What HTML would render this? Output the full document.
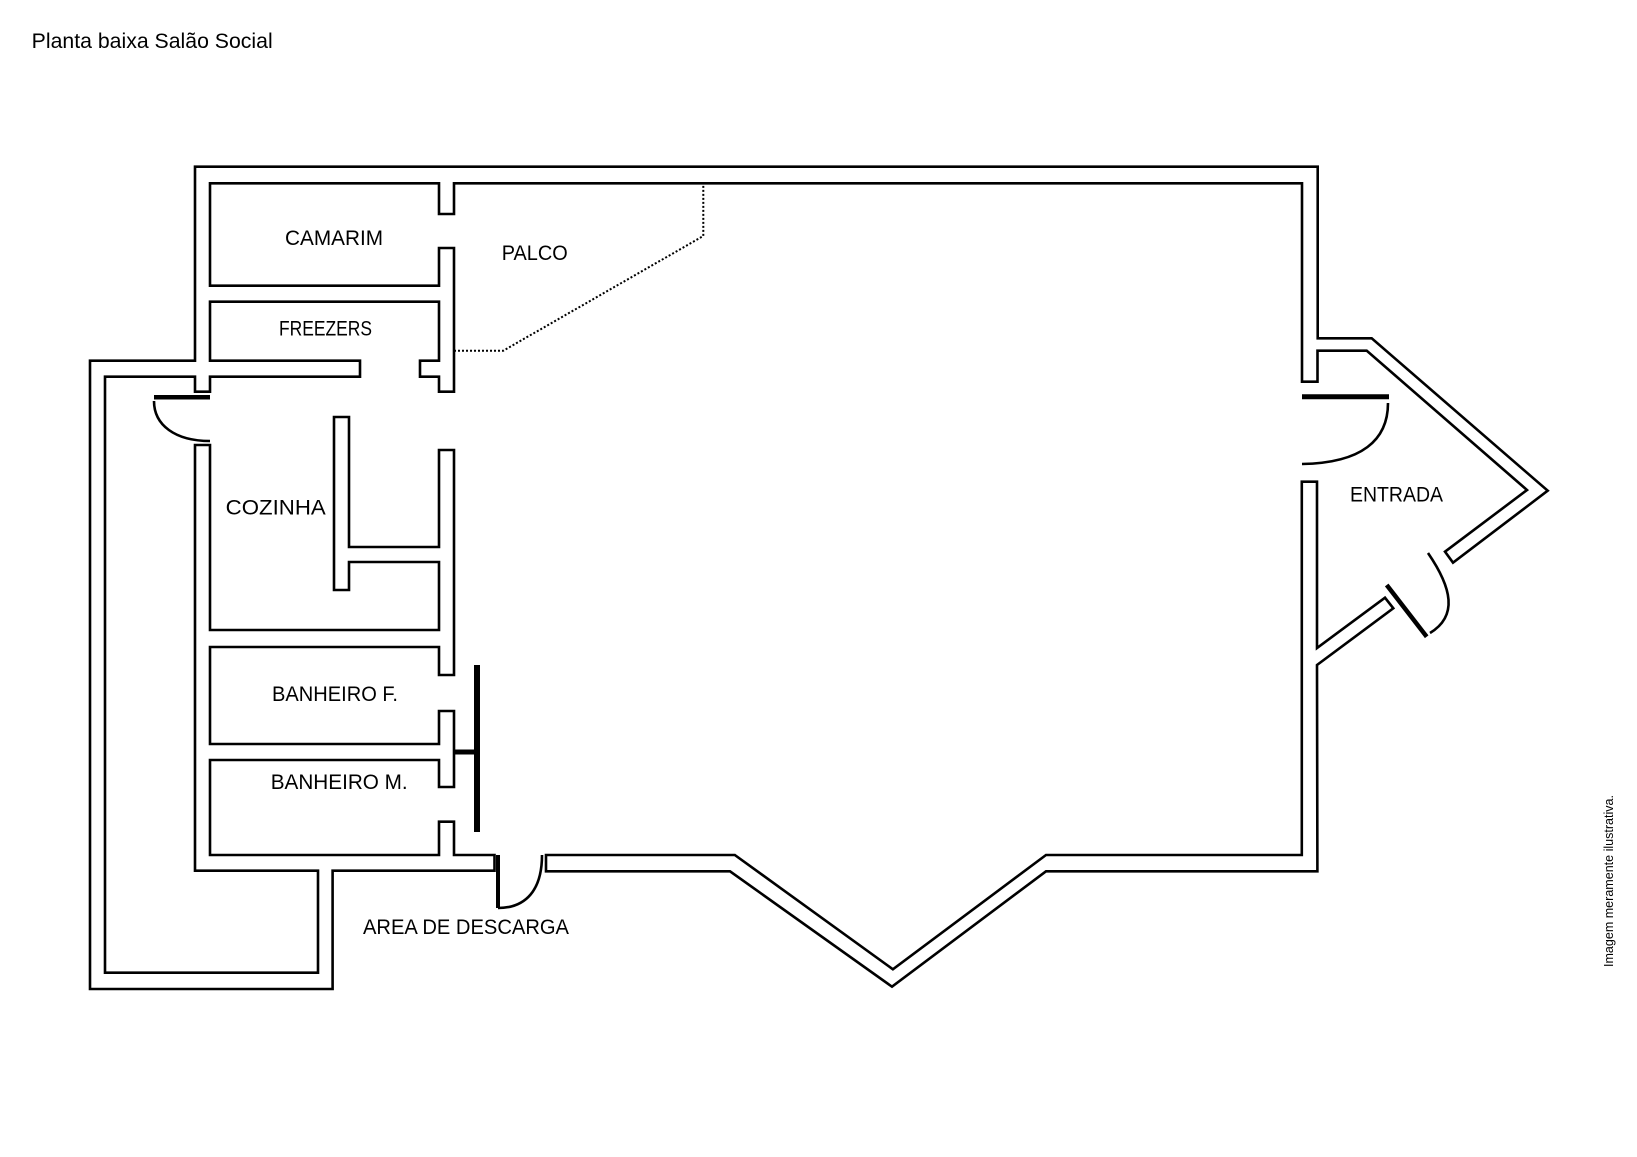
<!DOCTYPE html>
<html><head><meta charset="utf-8"><style>
html,body{margin:0;padding:0;background:#fff;}
svg{display:block;}
text{font-family:"Liberation Sans",sans-serif;fill:#000;}
</style></head><body>
<svg width="1637" height="1157" viewBox="0 0 1637 1157" xmlns="http://www.w3.org/2000/svg">
<rect width="1637" height="1157" fill="#fff"/>
<g fill="none" stroke="#000" stroke-width="2.6" stroke-linejoin="miter">
<path d="M90,360.7 L195,360.7 L195,166.7 L1317.7,166.7 L1317.7,338.3 L1371.7,338.3 L1547.7,490.7 L1453,562.7 L1445,551.7 L1527,490 L1366.7,350.7 L1317.5,350.7 L1317.5,381.7 L1302,381.7 L1302,183.3 L454,183.3 L454,214 L439,214 L439,183.3 L210,183.3 L210,285.7 L439,285.7 L439,248 L454,248 L454,391.7 L439,391.7 L439,376.7 L420,376.7 L420,360.7 L439,360.7 L439,301.7 L210,301.7 L210,360.7 L360,360.7 L360,376.7 L210,376.7 L210,391.7 L195,391.7 L195,376.7 L105,376.7 L105,972.7 L318,972.7 L318,870.7 L195,870.7 L195,445 L210,445 L210,630 L439,630 L439,562 L349,562 L349,590 L334,590 L334,417 L349,417 L349,547 L439,547 L439,450 L454,450 L454,675 L439,675 L439,647 L210,647 L210,744 L439,744 L439,711 L454,711 L454,787 L439,787 L439,760 L210,760 L210,855 L439,855 L439,821.7 L454,821.7 L454,855 L494.5,855 L494.5,870.7 L332.6,870.7 L332.6,989 L90,989 Z"/>
<path d="M546,855 L734.8,855 L892.9,969.3 L1046,855 L1301.8,855 L1301.8,481.7 L1317,481.7 L1317,648 L1385,597.7 L1393.3,608.3 L1317,665 L1317.4,871.3 L1046,871.3 L892,986.7 L730,871.3 L546,871.3 Z"/>
<!-- door arcs -->
<path d="M154,401 C154,425 175,441 210,441"/>
<path d="M1388,403 C1388,440 1362,463 1302,464"/>
<path d="M1428,553 C1452,588 1458,616 1430,633"/>
<path d="M498,908 C526,908 542,890 542,855"/>
</g>
<g stroke="#000" fill="none">
<line x1="154" y1="397.3" x2="210" y2="397.3" stroke-width="4.5"/>
<line x1="1302" y1="396.7" x2="1389" y2="396.7" stroke-width="5"/>
<line x1="1386.7" y1="585" x2="1426.7" y2="636.7" stroke-width="4.5"/>
<line x1="498" y1="855" x2="498" y2="908" stroke-width="4"/>
<line x1="477" y1="665" x2="477" y2="832" stroke-width="6"/>
<line x1="454" y1="752" x2="477" y2="752" stroke-width="5"/>
<path d="M454,350.7 L503.3,350.7 L703.3,236 L703.3,183.3" stroke-width="2" stroke-dasharray="2 2"/>
</g>
<text x="31.7" y="48" font-size="21" textLength="241" lengthAdjust="spacingAndGlyphs">Planta baixa Salão Social</text>
<text x="285" y="245" font-size="21" textLength="98" lengthAdjust="spacingAndGlyphs">CAMARIM</text>
<text x="279" y="335.7" font-size="21" textLength="93" lengthAdjust="spacingAndGlyphs">FREEZERS</text>
<text x="501.7" y="260" font-size="21" textLength="66" lengthAdjust="spacingAndGlyphs">PALCO</text>
<text x="225.7" y="514.3" font-size="21" textLength="100" lengthAdjust="spacingAndGlyphs">COZINHA</text>
<text x="272" y="701" font-size="21" textLength="126" lengthAdjust="spacingAndGlyphs">BANHEIRO F.</text>
<text x="270.7" y="789" font-size="21" textLength="137" lengthAdjust="spacingAndGlyphs">BANHEIRO M.</text>
<text x="363" y="934" font-size="21" textLength="206" lengthAdjust="spacingAndGlyphs">AREA DE DESCARGA</text>
<text x="1350" y="501.7" font-size="21" textLength="93" lengthAdjust="spacingAndGlyphs">ENTRADA</text>
<text transform="translate(1613,967) rotate(-90)" x="0" y="0" font-size="12.5" textLength="172" lengthAdjust="spacingAndGlyphs">Imagem meramente ilustrativa.</text>
</svg>
</body></html>
